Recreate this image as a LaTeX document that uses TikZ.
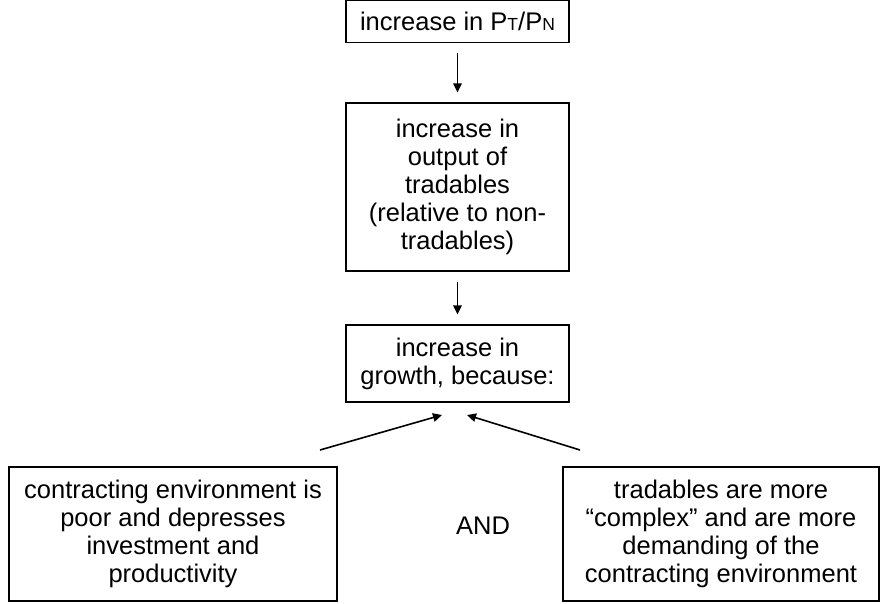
\documentclass[tikz,border=0pt]{standalone}
\usepackage{fontspec}
\setmainfont{Liberation Sans}
\usetikzlibrary{positioning,arrows.meta}
\tikzset{
    % plain text box
    node_box/.style = {draw=black, line width=1.2pt, align=center, inner sep=0pt, font=\fontsize{25.5}{28}\selectfont},
    % connector
    link/.style = {-{Triangle[length=9pt,width=8.5pt]}, line width=1.6pt, black}
}
\newcommand{\subcap}[1]{{\fontsize{17.5}{17.5}\selectfont #1}}

\begin{document}
\begin{tikzpicture}[x=1pt, y=-1pt]
    \useasboundingbox (0,0) rectangle (881,604);

    \node[node_box, minimum width=223pt, minimum height=42pt] (ratio) at (457.5,21.5)
        {increase in P\subcap{T}/P\subcap{N}};
    \node[node_box, minimum width=223pt, minimum height=168pt] (output) at (457.5,187)
        {increase in\\output of\\tradables\\(relative to non-\\tradables)};
    \node[node_box, minimum width=223pt, minimum height=77pt] (growth) at (457.5,363.5)
        {increase in\\growth, because:};

    \node[node_box, minimum width=328pt, minimum height=134pt] (poor) at (173,534)
        {contracting environment is\\poor and depresses\\investment and\\productivity};
    \node[node_box, minimum width=316pt, minimum height=134pt] (complex) at (721,534)
        {tradables are more\\``complex'' and are more\\demanding of the\\contracting environment};
    \node[font=\fontsize{25.5}{28}\selectfont] (and) at (483,526) {AND};

    \coordinate (ltail) at (320,450);
    \coordinate (lhead) at (442,415);
    \coordinate (rtail) at (580,450);
    \coordinate (rhead) at (467,415);

    \draw[link, shorten <=10pt, shorten >=10pt] (ratio.south) -- (output.north);
    \draw[link, shorten <=10pt, shorten >=10pt] (output.south) -- (growth.north);
    \draw[link] (ltail) -- (lhead);
    \draw[link] (rtail) -- (rhead);
\end{tikzpicture}
\end{document}
